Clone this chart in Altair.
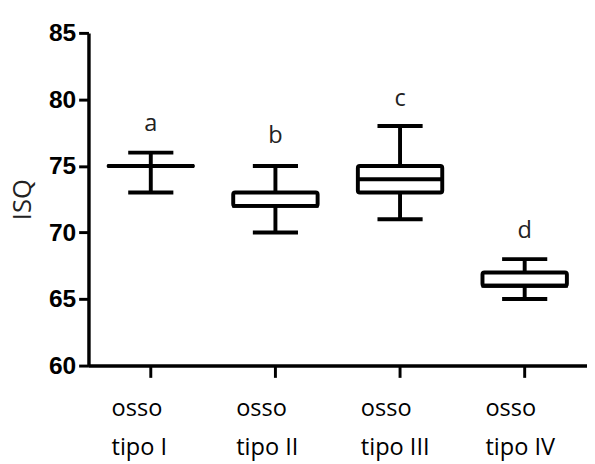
import altair as alt
import pandas as pd

categories = ["osso tipo I", "osso tipo II", "osso tipo III", "osso tipo IV"]
mins = [73, 70, 71, 65]
q1s = [75, 72, 73, 66]
medians = [75, 72, 74, 66]
q3s = [75, 73, 75, 67]
maxs = [76, 75, 78, 68]
letters = ["a", "b", "c", "d"]
letter_y = [77.6, 76.7, 79.5, 69.6]
y_ticks = [60, 65, 70, 75, 80, 85]

df = pd.DataFrame({
    "cat": categories, "min": mins, "q1": q1s, "median": medians,
    "q3": q3s, "max": maxs, "letter": letters, "ly": letter_y,
})

yscale = alt.Scale(domain=[60, 85], nice=False, zero=False)

x = alt.X(
    "cat:N", sort=categories, title=None,
    scale=alt.Scale(paddingInner=0, paddingOuter=0),
    axis=alt.Axis(
        labelAngle=0, labelAlign="left", labelOffset=-40, labelBaseline="top",
        labelPadding=20, labelLineHeight=40, labelFont="Open Sans",
        labelFontSize=24, labelColor="black", tickSize=12, tickWidth=3,
        tickColor="black", domainWidth=3.5, domainColor="black",
        labelExpr="[substring(datum.label, 0, 4), substring(datum.label, 5)]",
    ),
)

base = alt.Chart(df).encode(x=x)

whisker = base.mark_rule(color="black", strokeWidth=4).encode(
    y=alt.Y(
        "min:Q", scale=yscale, title="ISQ",
        axis=alt.Axis(
            values=y_ticks, grid=False, tickSize=10, tickWidth=3,
            tickColor="black", domainWidth=3.5, domainColor="black",
            labelFont="'Liberation Sans Narrow', 'Liberation Sans'",
            labelFontWeight="bold", labelFontSize=25, labelColor="black",
            labelPadding=3, titleFont="Open Sans", titleFontSize=26,
            titleFontWeight="normal", titleColor="#222222", titleAngle=-90,
            titleX=-67, titleY=169.5, titleBaseline="middle", titleAlign="center",
        ),
    ),
    y2="max:Q",
)

box = base.mark_bar(size=86, fill="white", stroke="black", strokeWidth=4,
                    strokeJoin="round", cornerRadius=2).encode(
    y=alt.Y("q1:Q", scale=yscale), y2="q3:Q"
)

median = base.mark_tick(size=88, thickness=4, color="black", opacity=1).encode(
    y=alt.Y("median:Q", scale=yscale)
)
cap_lo = base.mark_tick(size=46, thickness=4, color="black", opacity=1).encode(
    y=alt.Y("min:Q", scale=yscale)
)
cap_hi = base.mark_tick(size=46, thickness=4, color="black", opacity=1).encode(
    y=alt.Y("max:Q", scale=yscale)
)

text = base.mark_text(font="Open Sans", fontSize=24, baseline="alphabetic",
                      color="#222222").encode(
    y=alt.Y("ly:Q", scale=yscale), text="letter:N"
)

chart = alt.layer(whisker, box, median, cap_lo, cap_hi, text).properties(
    width=508, height=339,
    padding={"left": 82, "top": 21, "right": 0, "bottom": 100},
    autosize=alt.AutoSizeParams(type="none"),
).configure_view(stroke=None).configure_axis(grid=False)

chart.save("out.html", embed_options={"renderer": "svg", "actions": False})
